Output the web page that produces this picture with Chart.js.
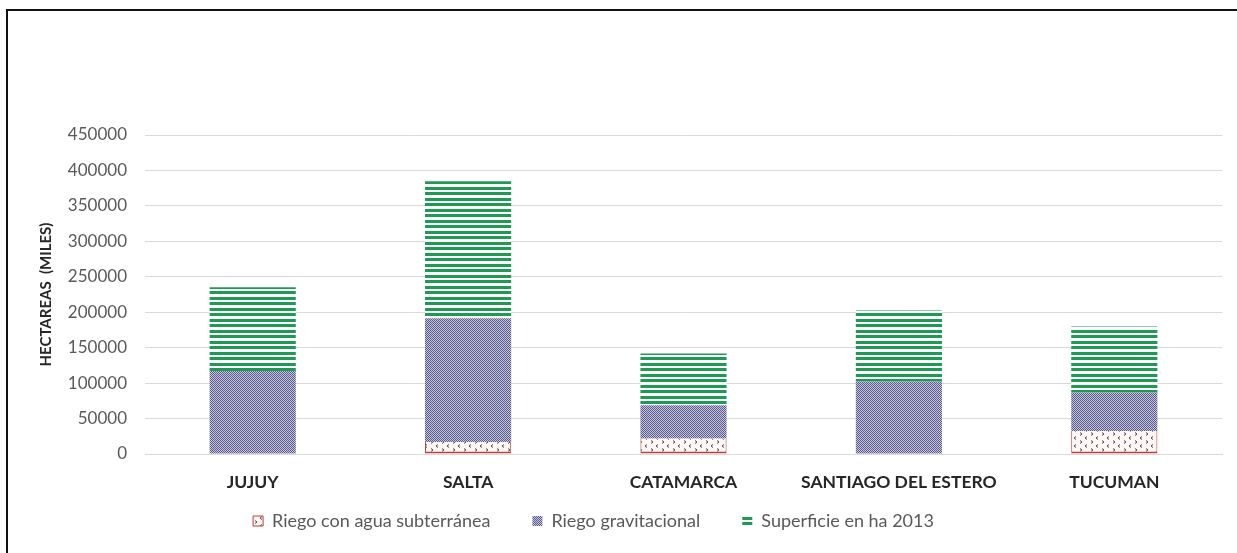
<!DOCTYPE html>
<html>
<head>
<meta charset="utf-8">
<script src="https://cdn.jsdelivr.net/npm/chart.js@4/dist/chart.umd.min.js"></script>
<style>
    html, body { margin: 0; padding: 0; background: #ffffff; }
    #wrap { position: relative; width: 1237px; height: 553px; overflow: hidden; }
    #frame {
        position: absolute; left: 6px; top: 9px; width: 1300px; height: 600px;
        border-top: 2px solid #111; border-left: 2px solid #111;
    }
    canvas { position: absolute; left: 0; top: 0; }
</style>
</head>
<body>
<div id="wrap">
    <div id="frame"></div>
    <canvas id="superficieChart" width="1237" height="553"></canvas>
</div>
<script>
// datos (hectáreas)
const categories = ['JUJUY', 'SALTA', 'CATAMARCA', 'SANTIAGO DEL ESTERO', 'TUCUMAN'];
const riegoSubterranea = [0, 17000, 21700, 0, 32500];
const riegoGravitacional = [117000, 174400, 47200, 102300, 54300];
const superficie2013 = [118300, 193500, 73000, 100000, 92900];
const yTicks = [0, 50000, 100000, 150000, 200000, 250000, 300000, 350000, 400000, 450000];

// tramas tipo Excel
function makePattern(w, h, draw) {
    const c = document.createElement('canvas');
    c.width = w;
    c.height = h;
    const g = c.getContext('2d');
    draw(g);
    return g.createPattern(c, 'repeat');
}

const ctx = document.getElementById('superficieChart').getContext('2d');

const redPattern = makePattern(11, 8, g => {
    g.fillStyle = '#fff6f6';
    g.fillRect(0, 0, 11, 8);
    g.strokeStyle = '#4a4a4a';
    g.lineWidth = 1;
    g.beginPath();
    g.moveTo(2, 0.5); g.lineTo(4, 2); g.lineTo(2, 3.5);
    g.moveTo(9, 4.5); g.lineTo(7, 6); g.lineTo(9, 7.5);
    g.stroke();
});

const bluePattern = makePattern(2, 2, g => {
    g.fillStyle = '#c4c4d8';
    g.fillRect(0, 0, 2, 2);
    g.fillStyle = '#5c5c90';
    g.fillRect(0, 0, 1, 1);
    g.fillRect(1, 1, 1, 1);
});

const greenPattern = makePattern(4, 11, g => {
    g.fillStyle = '#ffffff';
    g.fillRect(0, 0, 4, 11);
    g.fillStyle = '#1f9a55';
    g.fillRect(0, 0, 4, 3);
    g.fillRect(0, 5, 4, 3);
});

// leyenda: separación horizontal amplia sin ocupar tanto alto
const legendSpacing = {
    id: 'legendSpacing',
    beforeLayout(chart) {
        const lg = chart.legend;
        if (!lg || lg._spaced) return;
        const fit = lg.fit;
        const draw = lg.draw;
        lg.fit = function () {
            fit.call(this);
            this.height = 42;
        };
        lg.draw = function () {
            const t = this.top, l = this.left, r = this.right;
            this.top = t - 41;
            this.left = l - 36;
            this.right = r - 36;
            draw.call(this);
            this.top = t;
            this.left = l;
            this.right = r;
        };
        lg._spaced = true;
    }
};

new Chart(ctx, {
    type: 'bar',
    data: {
        labels: categories,
        datasets: [
            {
                label: 'Riego con agua subterránea',
                data: riegoSubterranea,
                backgroundColor: redPattern,
                borderColor: '#b8403c',
                borderWidth: { top: 0, left: 1, right: 1, bottom: 2 },
                borderSkipped: false
            },
            {
                label: 'Riego gravitacional',
                data: riegoGravitacional,
                backgroundColor: bluePattern,
                borderWidth: 0
            },
            {
                label: 'Superficie en ha 2013',
                data: superficie2013,
                backgroundColor: greenPattern,
                borderWidth: 0
            }
        ]
    },
    plugins: [legendSpacing],
    options: {
        responsive: false,
        animation: false,
        devicePixelRatio: 1,
        layout: {
            padding: { top: 135, right: 15, left: 37, bottom: 0 }
        },
        datasets: {
            bar: {
                categoryPercentage: 0.4,
                barPercentage: 1
            }
        },
        plugins: {
            tooltip: { enabled: false },
            legend: {
                position: 'bottom',
                labels: {
                    color: '#595959',
                    font: { family: 'Lato', size: 18 },
                    boxWidth: 10,
                    boxHeight: 10,
                    padding: 42
                }
            }
        },
        scales: {
            x: {
                stacked: true,
                grid: { display: false, drawTicks: false },
                border: { color: '#d9d9d9' },
                ticks: {
                    color: '#262626',
                    font: { family: 'Lato', size: 17.5, weight: 'bold' },
                    padding: 18
                }
            },
            y: {
                stacked: true,
                min: 0,
                max: 450000,
                afterBuildTicks: axis => {
                    axis.ticks = yTicks.map(v => ({ value: v }));
                },
                afterFit: axis => {
                    axis.width = 108;
                },
                grid: { color: '#d9d9d9', drawTicks: false },
                border: { display: false },
                ticks: {
                    color: '#595959',
                    font: { family: 'Lato', size: 17 },
                    padding: 18,
                    callback: v => String(v)
                },
                title: {
                    display: true,
                    text: 'HECTAREAS  (MILES)',
                    color: '#262626',
                    font: { family: 'Lato', size: 15, weight: 'bold' },
                    padding: 0
                }
            }
        }
    }
});
</script>
</body>
</html>
